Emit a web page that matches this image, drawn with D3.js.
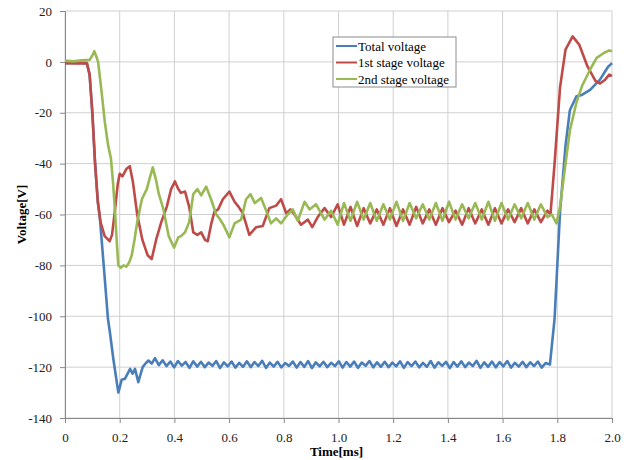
<!DOCTYPE html>
<html>
<head>
<meta charset="utf-8">
<script src="https://cdn.jsdelivr.net/npm/d3@7"></script>
<style>
  body { margin: 0; background: #fff; }
  svg text { font-family: "Liberation Serif", "Times New Roman", serif !important; }
</style>
</head>
<body>
<div id="chart"></div>
<script>
/* CONSTANTS AND GLOBALS */
const width = 624,
  height = 460,
  margin = { top: 11, right: 12, bottom: 42, left: 65 };

/* DATA (time in ms, voltage in V) */
const xTicks = [0, 0.2, 0.4, 0.6, 0.8, 1.0, 1.2, 1.4, 1.6, 1.8, 2.0];
const yTicks = [20, 0, -20, -40, -60, -80, -100, -120, -140];
const seriesNames = ["Total voltage", "1st stage voltage", "2nd stage voltage"];

// Total voltage: switch-on transient, ripple plateau, switch-off transient
const totalHead = [
  [0, -0.5], [0.04, -0.3], [0.08, -0.5], [0.09, -5], [0.1, -20], [0.11, -40], [0.12, -55],
  [0.128, -62], [0.143, -82], [0.157, -101], [0.165, -107], [0.177, -117], [0.195, -130],
  [0.207, -125], [0.219, -124.6], [0.238, -120.7], [0.247, -122.6], [0.256, -120.7],
  [0.268, -125.9], [0.284, -120], [0.295, -118.5], [0.305, -117.4], [0.317, -118.6], [0.329, -116.5]
];
const totalRippleStart = 0.343, totalRippleStep = 0.014;
const totalRipple = [
  -119.2, -117.3, -119.6, -117.8, -120.1, -117.6, -119.4, -118.0, -120.3, -117.7,
  -119.8, -117.9, -120.0, -118.2, -119.5, -117.6, -120.4, -118.1, -119.7, -117.8,
  -120.2, -118.3, -119.9, -117.7, -120.0, -118.0, -119.6, -117.5, -120.3, -118.2,
  -119.8, -117.9, -120.1, -118.4, -119.5, -117.8, -120.2, -118.0, -119.9, -117.6,
  -120.4, -118.1, -119.7, -117.9, -120.0, -118.3, -119.6, -117.7, -120.2, -118.0,
  -119.8, -117.8, -120.3, -118.2, -119.5, -117.6, -120.1, -118.1, -119.9, -117.9,
  -120.0, -118.2, -119.7, -117.7, -120.3, -118.0, -119.6, -117.8, -120.1, -118.3,
  -119.9, -117.6, -120.2, -118.1, -119.5, -117.9, -120.4, -118.0, -119.8, -117.7,
  -120.0, -118.2, -119.6, -117.5, -120.3, -118.1, -119.9, -117.8, -120.1, -118.0,
  -119.7, -117.6, -120.2, -118.3, -119.8, -117.9, -120.0, -118.1, -119.6, -117.8,
  -120.2, -118.4
];
const totalTail = [
  [1.773, -119], [1.79, -101], [1.81, -59], [1.83, -33], [1.846, -19], [1.87, -13.5],
  [1.89, -13], [1.92, -11], [1.956, -7], [1.985, -2], [2.0, -0.5]
];

// 1st stage voltage
const firstHead = [
  [0, -0.5], [0.04, -0.6], [0.08, -0.5], [0.09, -5], [0.1, -20], [0.11, -40], [0.12, -55],
  [0.13, -63], [0.145, -68.5], [0.163, -70.5], [0.172, -68], [0.183, -58], [0.193, -48],
  [0.2, -44], [0.21, -45], [0.225, -42], [0.237, -41], [0.248, -47], [0.264, -60],
  [0.283, -70], [0.302, -76], [0.317, -77.5], [0.333, -70], [0.352, -63], [0.372, -57],
  [0.388, -50], [0.402, -47], [0.414, -50], [0.424, -51.5], [0.439, -51], [0.454, -57],
  [0.469, -67], [0.484, -68], [0.498, -67], [0.512, -70], [0.522, -70.5], [0.534, -64],
  [0.546, -59], [0.56, -58], [0.577, -54], [0.601, -51], [0.62, -55], [0.635, -57],
  [0.65, -59.5], [0.674, -68], [0.699, -65], [0.723, -64.5], [0.747, -57.5], [0.772, -56.5],
  [0.79, -54], [0.809, -59.5], [0.824, -58], [0.839, -60], [0.863, -64], [0.888, -62],
  [0.904, -65], [0.924, -61], [0.949, -57.5], [0.973, -61], [0.997, -56]
];
const firstRippleStart = 1.02, firstRippleStep = 0.024;
const firstRipple = [
  -64, -57, -64.5, -57.5, -63.5, -58, -64, -57.5, -64.5, -58, -64, -57, -63.5, -58, -64, -57.5,
  -63, -58.5, -64, -57.5, -63.5, -58, -64, -57.5, -63.5, -58, -63, -57.5, -63.5, -58, -63, -58.5
];
const firstTail = [
  [1.775, -60], [1.79, -40], [1.81, -10], [1.83, 4.8], [1.856, 10], [1.88, 6.8], [1.91, -1.7],
  [1.94, -7.6], [1.956, -8.5], [1.975, -7], [1.99, -5], [2.0, -5.5]
];

// 2nd stage voltage
const secondHead = [
  [0, 0.5], [0.03, 0.2], [0.06, 0.6], [0.09, 0.8], [0.1, 2.5], [0.107, 4.2], [0.115, 2],
  [0.121, 0], [0.133, -11], [0.146, -24], [0.158, -33], [0.168, -38], [0.176, -48],
  [0.183, -59], [0.19, -72], [0.195, -80], [0.204, -81], [0.214, -80], [0.224, -80.5],
  [0.234, -79], [0.244, -76], [0.254, -70], [0.264, -63], [0.281, -54], [0.299, -50],
  [0.309, -46], [0.321, -41.5], [0.334, -47], [0.342, -51.5], [0.36, -58], [0.379, -68.5],
  [0.399, -73], [0.414, -69], [0.424, -68.5], [0.439, -67], [0.454, -63], [0.469, -52],
  [0.484, -50], [0.498, -52.5], [0.516, -49], [0.534, -54], [0.553, -60], [0.564, -61.5],
  [0.579, -64], [0.601, -69], [0.62, -63.5], [0.644, -62], [0.662, -54], [0.678, -52],
  [0.694, -55.5], [0.717, -53.5], [0.734, -58], [0.753, -63.5], [0.772, -61.5], [0.79, -63.5],
  [0.814, -60], [0.833, -58], [0.851, -62.5], [0.876, -55], [0.894, -58], [0.918, -56],
  [0.949, -62], [0.973, -58.5], [0.997, -64]
];
const secondRippleStart = 1.02, secondRippleStep = 0.024;
const secondRipple = [
  -55.5, -62.5, -55, -62, -55.5, -62.5, -56, -62, -55, -62.5, -55.5, -61.5, -56, -62, -55.5, -62.5,
  -55, -62, -56, -61.5, -55.5, -62, -55, -62.5, -55.5, -62, -56, -61.5, -55.5, -62, -56, -61
];
const secondTail = [
  [1.78, -60], [1.797, -63.5], [1.81, -57], [1.83, -40], [1.846, -27], [1.87, -16], [1.89, -9.6],
  [1.92, -3], [1.944, 1.6], [1.97, 3.5], [1.99, 4.5], [2.0, 4.2]
];

const colors = ["#4a7ebb", "#be4b48", "#98b954"];

/* BUILD SERIES */
function build(head, start, step, ripple, tail) {
  return head
    .concat(ripple.map((v, i) => [start + i * step, v]))
    .concat(tail);
}

const series = [
  build(totalHead, totalRippleStart, totalRippleStep, totalRipple, totalTail),
  build(firstHead, firstRippleStart, firstRippleStep, firstRipple, firstTail),
  build(secondHead, secondRippleStart, secondRippleStep, secondRipple, secondTail)
];

/* SCALES */
const xScale = d3.scaleLinear()
  .domain([0, 2])
  .range([margin.left, width - margin.right]);

const yScale = d3.scaleLinear()
  .domain([-140, 20])
  .range([height - margin.bottom, margin.top]);

/* SVG */
const svg = d3.select("#chart")
  .append("svg")
  .attr("width", width)
  .attr("height", height);

// gridlines
svg.append("g")
  .selectAll("line")
  .data(yTicks)
  .join("line")
  .attr("x1", margin.left)
  .attr("x2", width - margin.right)
  .attr("y1", d => yScale(d))
  .attr("y2", d => yScale(d))
  .attr("stroke", "#d0d0d0")
  .attr("stroke-width", 1);

svg.append("g")
  .selectAll("line")
  .data(xTicks)
  .join("line")
  .attr("x1", d => xScale(d))
  .attr("x2", d => xScale(d))
  .attr("y1", margin.top)
  .attr("y2", height - margin.bottom)
  .attr("stroke", "#d0d0d0")
  .attr("stroke-width", 1);

// axes
const xAxis = d3.axisBottom(xScale)
  .tickValues(xTicks)
  .tickSize(5)
  .tickPadding(10)
  .tickFormat(d => d === 0 ? "0" : d.toFixed(1));

const yAxis = d3.axisLeft(yScale)
  .tickValues(yTicks)
  .tickSize(5)
  .tickPadding(8)
  .tickFormat(d => String(d)); // plain hyphen minus like the original

const xAxisGroup = svg.append("g")
  .attr("transform", `translate(0, ${height - margin.bottom})`)
  .call(xAxis);

const yAxisGroup = svg.append("g")
  .attr("transform", `translate(${margin.left}, 0)`)
  .call(yAxis);

[xAxisGroup, yAxisGroup].forEach(g => {
  g.attr("font-family", null).attr("font-size", null);
  g.select(".domain").attr("stroke", "#888");
  g.selectAll(".tick line").attr("stroke", "#888");
  g.selectAll(".tick text")
    .style("font-family", "'Liberation Serif', serif")
    .style("font-size", "13px")
    .attr("fill", "#222");
});

// axis titles
svg.append("text")
  .attr("x", (margin.left + width - margin.right) / 2 - 2)
  .attr("y", 456)
  .attr("text-anchor", "middle")
  .style("font-size", "13px")
  .attr("font-weight", "bold")
  .text("Time[ms]");

svg.append("text")
  .attr("transform", `translate(26, ${(margin.top + height - margin.bottom) / 2}) rotate(-90)`)
  .attr("text-anchor", "middle")
  .style("font-size", "13px")
  .attr("font-weight", "bold")
  .text("Voltage[V]");

// lines
const line = d3.line()
  .x(d => xScale(d[0]))
  .y(d => yScale(d[1]));

svg.append("g")
  .selectAll("path")
  .data(series)
  .join("path")
  .attr("d", line)
  .attr("fill", "none")
  .attr("stroke", (d, i) => colors[i])
  .attr("stroke-width", 2.6)
  .attr("stroke-linejoin", "round");

// legend
const legend = svg.append("g").attr("transform", "translate(333, 37)");

legend.append("rect")
  .attr("width", 123)
  .attr("height", 50)
  .attr("fill", "#fff")
  .attr("stroke", "#8c8c8c");

const rows = legend.selectAll("g.row")
  .data(seriesNames)
  .join("g")
  .attr("class", "row")
  .attr("transform", (d, i) => `translate(0, ${9 + i * 16.5})`);

rows.append("line")
  .attr("x1", 3)
  .attr("x2", 24)
  .attr("stroke", (d, i) => colors[i])
  .attr("stroke-width", 2);

rows.append("text")
  .attr("x", 25)
  .attr("dy", "0.35em")
  .style("font-size", "13px")
  .text(d => d);
</script>
</body>
</html>
